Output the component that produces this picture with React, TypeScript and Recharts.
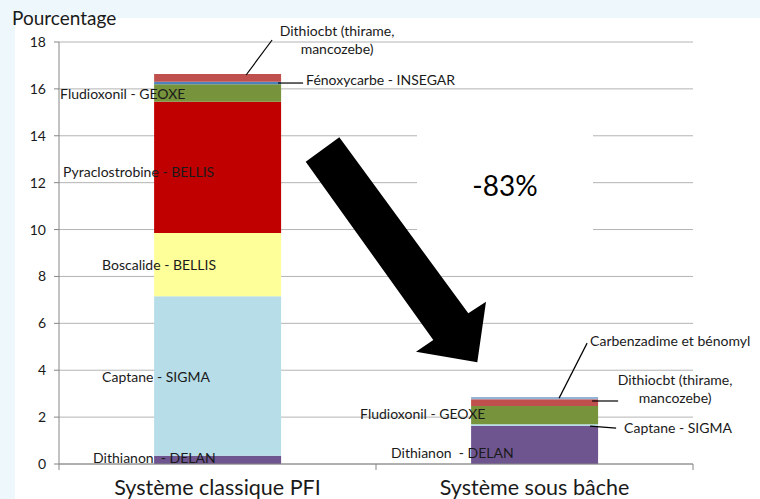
import { BarChart, Bar, XAxis, YAxis, CartesianGrid, LabelList } from 'recharts';

const categories = ['Système classique PFI', 'Système sous bâche'];

// Values per series, one per category (classique, sous bâche)
const dithianon = [0.35, 1.62];
const captane = [6.8, 0.08];
const boscalide = [2.7, 0];
const pyraclostrobine = [5.6, 0];
const fludioxonil = [0.75, 0.77];
const fenoxycarbe = [0.1, 0];
const dithiocbt = [0.33, 0.29];
const carbenzadime = [0, 0.1];

const yTicks = [0, 2, 4, 6, 8, 10, 12, 14, 16, 18];

const FONT = 'Lato, "Open Sans", sans-serif';
const TEXT = '#1a1a1a';
const AXIS = '#868686';
const GRID = '#b4b4b4';

const W = 760;
const H = 499;
const MARGIN = { top: 42, right: 67, bottom: 5, left: 19 };
const Y_W = 40;
const PLOT_X = MARGIN.left + Y_W;
const PLOT_W = W - MARGIN.left - MARGIN.right - Y_W;
const BAND = PLOT_W / categories.length;
const HALF_BAND = BAND / 2;

const series = [
  { key: 'dithianon', values: dithianon, color: '#6f5590' },
  { key: 'captane', values: captane, color: '#b7dde8' },
  { key: 'boscalide', values: boscalide, color: '#ffff99' },
  { key: 'pyraclostrobine', values: pyraclostrobine, color: '#c00000' },
  { key: 'fludioxonil', values: fludioxonil, color: '#77933c' },
  { key: 'fenoxycarbe', values: fenoxycarbe, color: '#4f81bd' },
  { key: 'dithiocbt', values: dithiocbt, color: '#c0504d' },
  { key: 'carbenzadime', values: carbenzadime, color: '#95b3d7' },
];

const data = categories.map((name, i) => {
  const row: any = { name };
  series.forEach(s => { row[s.key] = s.values[i]; });
  return row;
});

type Spec = {
  side: 'left' | 'right';
  dx: number;
  dy: number;
  lines: string[];
  anchor?: 'start' | 'middle';
  leader?: [number, number, number, number];
} | null;

// label placement, relative to the segment edge and its vertical centre
const labelSpecs: Record<string, Spec[]> = {
  dithianon: [
    { side: 'left', dx: -61, dy: -2, lines: ['Dithianon  - DELAN'] },
    { side: 'left', dx: -80, dy: 8, lines: ['Dithianon  - DELAN'] },
  ],
  captane: [
    { side: 'left', dx: -52, dy: 1, lines: ['Captane - SIGMA'] },
    { side: 'right', dx: 26, dy: 3, lines: ['Captane - SIGMA'], leader: [-8, 1, 18, 3] },
  ],
  boscalide: [{ side: 'left', dx: -52, dy: 0, lines: ['Boscalide - BELLIS'] }, null],
  pyraclostrobine: [{ side: 'left', dx: -91, dy: 4.5, lines: ['Pyraclostrobine - BELLIS'] }, null],
  fludioxonil: [
    { side: 'left', dx: -94, dy: 1, lines: ['Fludioxonil - GEOXE'] },
    { side: 'left', dx: -111, dy: -1, lines: ['Fludioxonil - GEOXE'] },
  ],
  fenoxycarbe: [
    { side: 'right', dx: 25, dy: -3, lines: ['Fénoxycarbe - INSEGAR'], leader: [-3, 0, 22, 0] },
    null,
  ],
  dithiocbt: [
    { side: 'right', anchor: 'middle', dx: 56, dy: -47, lines: ['Dithiocbt (thirame,', 'mancozebe)'], leader: [-35, -3, -9, -38] },
    { side: 'right', anchor: 'middle', dx: 77, dy: -22.7, lines: ['Dithiocbt (thirame,', 'mancozebe)'], leader: [-6, -1.7, 20, -1.7] },
  ],
  carbenzadime: [
    null,
    { side: 'right', dx: -8, dy: -57, lines: ['Carbenzadime et bénomyl'], leader: [-39, 0, -11, -55] },
  ],
};

function makeLabel(key: string) {
  return (props: any) => {
    const x = Number(props.x);
    const y = Number(props.y);
    const w = Number(props.width);
    const h = Number(props.height);
    if (!Number.isFinite(x) || !Number.isFinite(y)) return null;
    // category from the segment's position, zero segments may be skipped
    const cat = Math.max(0, Math.min(categories.length - 1, Math.floor((x + w / 2 - PLOT_X) / BAND)));
    const spec = labelSpecs[key]?.[cat];
    if (!spec) return null;
    const rx = spec.side === 'right' ? x + w : x;
    const cy = y + h / 2;
    return (
      <g>
        {spec.leader && (
          <line
            x1={rx + spec.leader[0]} y1={cy + spec.leader[1]}
            x2={rx + spec.leader[2]} y2={cy + spec.leader[3]}
            stroke="#000" strokeWidth={1.2}
          />
        )}
        {spec.lines.map((t, i) => (
          <text
            key={i}
            x={rx + spec.dx}
            y={cy + spec.dy + 5 + i * 18.5}
            textAnchor={spec.anchor ?? 'start'}
            fontFamily={FONT}
            fontSize={14}
            fill={TEXT}
            style={{ whiteSpace: 'pre' }}
          >
            {t}
          </text>
        ))}
      </g>
    );
  };
}

function CategoryTick({ x, y, payload, index }: any) {
  const last = index === categories.length - 1;
  return (
    <g>
      <line x1={x - HALF_BAND} y1={y} x2={x - HALF_BAND} y2={y + 6} stroke={AXIS} />
      {last && <line x1={x + HALF_BAND} y1={y} x2={x + HALF_BAND} y2={y + 6} stroke={AXIS} />}
      <text x={x} y={y + 31} textAnchor="middle" fontFamily={FONT} fontSize={21.5} fill={TEXT}>
        {payload.value}
      </text>
    </g>
  );
}

export default function App() {
  return (
    <div style={{ position: 'absolute', left: 0, top: 0, width: W, height: H, background: '#eef7fc', overflow: 'hidden' }}>
      <div style={{ position: 'absolute', left: 15, top: 18, right: 0, bottom: 0, background: '#fff' }} />
      <div style={{ position: 'absolute', left: 0, top: 0 }}>
        <BarChart width={W} height={H} data={data} margin={MARGIN} barCategoryGap="30%">
          <CartesianGrid vertical={false} stroke={GRID} />
          <XAxis
            dataKey="name"
            height={30}
            interval={0}
            tickSize={0}
            tickMargin={0}
            tickLine={false}
            axisLine={{ stroke: AXIS }}
            tick={<CategoryTick />}
          />
          <YAxis
            width={Y_W}
            domain={[0, 18]}
            ticks={yTicks}
            interval={0}
            tickSize={5}
            tickMargin={8}
            axisLine={{ stroke: AXIS }}
            tickLine={{ stroke: AXIS }}
            tick={{ fontSize: 14, fontFamily: FONT, fill: TEXT }}
          />
          {series.map(s => (
            <Bar key={s.key} dataKey={s.key} stackId="a" fill={s.color} isAnimationActive={false}>
              <LabelList content={makeLabel(s.key)} />
            </Bar>
          ))}
        </BarChart>
      </div>
      <svg width={W} height={H} style={{ position: 'absolute', left: 0, top: 0, pointerEvents: 'none' }}>
        <text x={12} y={25} fontFamily={FONT} fontSize={19} fill={TEXT}>Pourcentage</text>
        <rect x={417} y={110} width={176} height={150} fill="#fff" />
        <polygon
          points="305.7,161.7 339.3,137.3 468.3,313.3 486,301.7 477.3,362.3 416,351.7 433.3,340"
          fill="#000"
        />
        <text x={505} y={196} textAnchor="middle" fontFamily={FONT} fontSize={28} fill="#000">-83%</text>
      </svg>
    </div>
  );
}
